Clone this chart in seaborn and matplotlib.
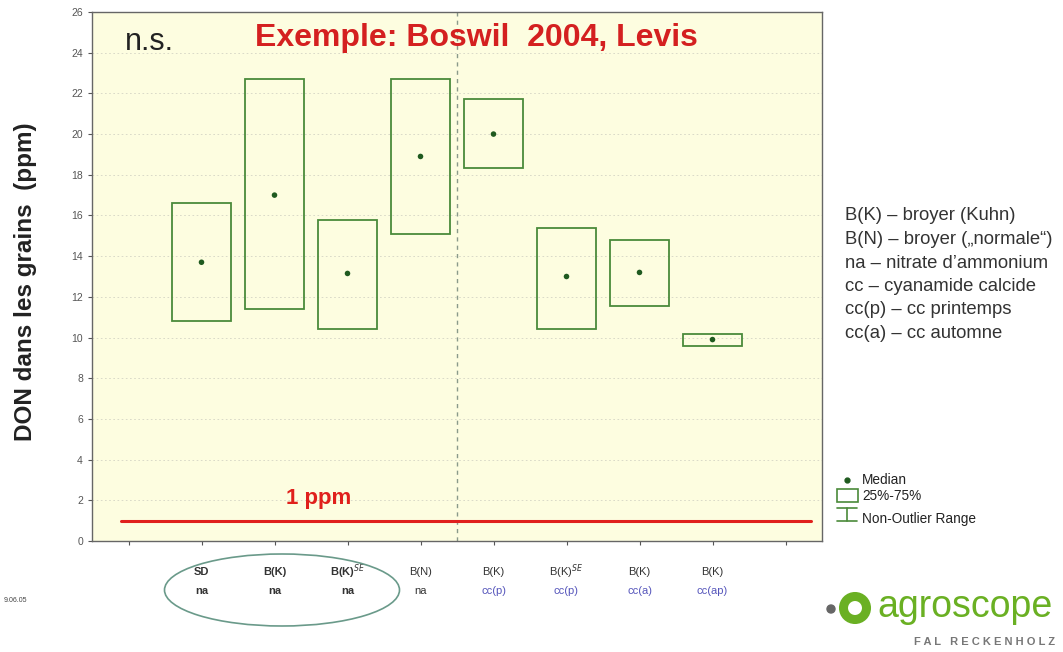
import numpy as np
import pandas as pd
import matplotlib
matplotlib.use('Agg')
import matplotlib.pyplot as plt
import seaborn as sns
from matplotlib.patches import Ellipse, Rectangle
from matplotlib.lines import Line2D

# Data
positions = [1, 2, 3, 4, 5, 6, 7, 8]
label_top = ['SD', 'B(K)', 'B(K)$^{SE}$', 'B(N)', 'B(K)', 'B(K)$^{SE}$', 'B(K)', 'B(K)']
label_bottom = ['na', 'na', 'na', 'na', 'cc(p)', 'cc(p)', 'cc(a)', 'cc(ap)']
q25 = [10.8, 11.4, 10.4, 15.1, 18.35, 10.4, 11.55, 9.6]
q75 = [16.6, 22.7, 15.8, 22.7, 21.7, 15.4, 14.8, 10.15]
median = [13.7, 17.0, 13.15, 18.9, 20.0, 13.0, 13.2, 9.9]
ref_level = 1.0
ref_extent = [-0.1, 9.35]
split_pos = 4.5

df = pd.DataFrame({'pos': positions, 'q25': q25, 'q75': q75, 'median': median})

sns.set_style('ticks')
plt.rcParams['font.family'] = ['Liberation Sans', 'DejaVu Sans']

green = '#4a8a3a'
W, H = 1063, 652
fig = plt.figure(figsize=(10.63, 6.52), dpi=100)
ax = fig.add_axes([92 / W, 1 - 541 / H, 730 / W, 529 / H])
ax.set_facecolor('#fdfde0')

# grid
for y in range(2, 26, 2):
    ax.axhline(y, color='#d4d4c4', lw=0.6, ls=(0, (2, 3)), zorder=0)

# boxes (25%-75%)
ax.bar(df['pos'], df['q75'] - df['q25'], bottom=df['q25'], width=0.82,
       facecolor='none', edgecolor=green, linewidth=1.3, zorder=3)
sns.scatterplot(data=df, x='pos', y='median', ax=ax, color='#1f5a1f',
                s=16, marker='o', edgecolor='none', zorder=4, legend=False)

# 1 ppm line
ax.plot(ref_extent, [ref_level, ref_level], color='#e0201c', lw=2.2, zorder=2)
ax.text(2.6, 1.55, '1 ppm', color='#e0201c', fontsize=16, fontweight='bold', ha='center', va='bottom')

ax.axvline(split_pos, color='#8a9a8a', lw=1.0, ls=(0, (3, 3)), zorder=1)

ax.set_xlim(-0.5, 9.5)
ax.set_ylim(0, 26)
ax.set_xticks(range(10))
ax.set_xticklabels([])
ax.set_yticks(range(0, 27, 2))
ax.tick_params(axis='y', labelsize=7.5, colors='#555555', length=3)
ax.tick_params(axis='x', length=3, colors='#555555')
for s in ax.spines.values():
    s.set_color('#666666')
    s.set_linewidth(1.0)
ax.set_xlabel('')
ax.set_ylabel('DON dans les grains  (ppm)', fontsize=17.5, fontweight='bold', color='#222222')
ax.yaxis.set_label_coords(-0.075, 0.49)

ax.text(-0.05, 23.8, 'n.s.', fontsize=22, color='#222222', va='bottom')
ax.text(4.77, 24.0, 'Exemple: Boswil  2004, Levis', fontsize=23, fontweight='bold',
        color='#d42020', ha='center', va='bottom')

# two-line category labels
trans = ax.get_xaxis_transform()
for p, t, b in zip(positions, label_top, label_bottom):
    ax.text(p, -0.058, t, transform=trans, ha='center', va='center', fontsize=8,
            color='#333333', fontweight='bold' if p <= 3 else 'normal')
    ax.text(p, -0.094, b, transform=trans, ha='center', va='center', fontsize=8,
            color='#333333' if b == 'na' else '#5555bb',
            fontweight='bold' if p <= 3 else 'normal')

fig.patches.append(Ellipse((282 / W, 1 - 590 / H), 235 / W, 72 / H,
                           transform=fig.transFigure, fill=False,
                           edgecolor='#6a9a8a', lw=1.2))

# abbreviation key
key = ['B(K) – broyer (Kuhn)', 'B(N) – broyer („normale“)', 'na – nitrate d’ammonium',
       'cc – cyanamide calcide', 'cc(p) – cc printemps', 'cc(a) – cc automne']
for i, k in enumerate(key):
    fig.text(845 / W, 1 - (216 + i * 23.5) / H, k, fontsize=13.3, color='#333333', va='center')

# legend
lx = 847 / W
fig.add_artist(Line2D([lx], [1 - 480 / H], marker='o', ms=3.5, color='#1f5a1f', ls='none'))
fig.patches.append(Rectangle((837 / W, 1 - 502 / H), 21 / W, 13 / H,
                             transform=fig.transFigure, fill=False, edgecolor=green, lw=1.2))
fig.add_artist(Line2D([lx, lx], [1 - 508 / H, 1 - 521 / H], color=green, lw=1.2))
fig.add_artist(Line2D([837 / W, 857 / W], [1 - 508 / H] * 2, color=green, lw=1.2))
fig.add_artist(Line2D([837 / W, 857 / W], [1 - 521 / H] * 2, color=green, lw=1.2))
for yy, t in zip([480, 496, 519], ['Median', '25%-75%', 'Non-Outlier Range']):
    fig.text(862 / W, 1 - yy / H, t, fontsize=9.8, color='#222222', va='center')

fig.text(4 / W, 1 - 601 / H, '9.06.05', fontsize=5, color='#444444', va='center')

# agroscope logo
fig.add_artist(Ellipse((831 / W, 1 - 609 / H), 8 / W, 8 / H, transform=fig.transFigure,
                       color='#666666'))
fig.add_artist(Ellipse((855 / W, 1 - 608 / H), 23 / W, 23 / H, transform=fig.transFigure,
                       fill=False, edgecolor='#6ab023', lw=6.5))
fig.text(877 / W, 1 - 607 / H, 'agroscope', fontsize=27, color='#6ab023', va='center')
fig.text(1055 / W, 1 - 642 / H, 'F A L   R E C K E N H O L Z', fontsize=8, color='#777777',
         fontweight='bold', va='center', ha='right')

fig.savefig('out.png', dpi=100)
